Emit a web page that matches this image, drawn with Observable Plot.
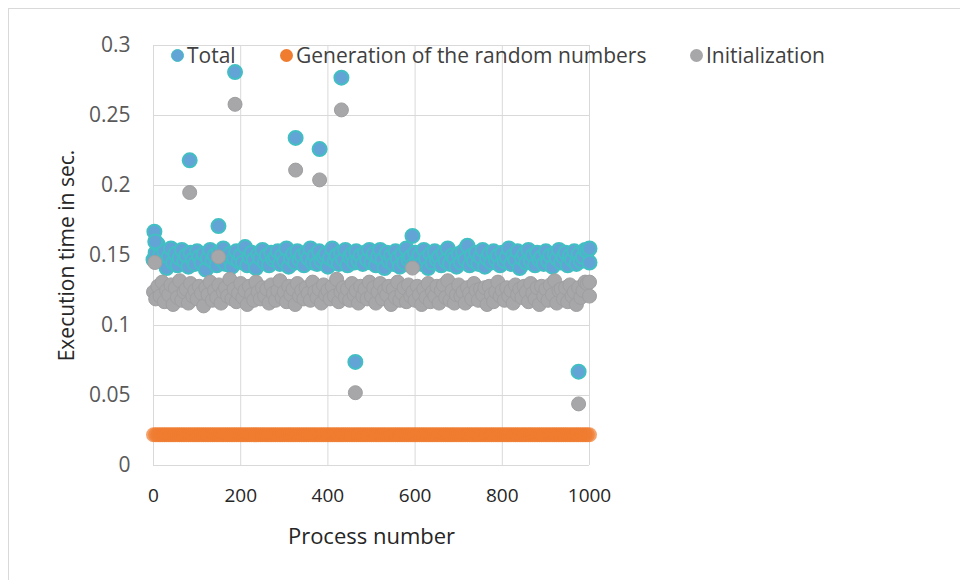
<!DOCTYPE html>
<html>
<head>
<meta charset="utf-8">
<script src="https://cdn.jsdelivr.net/npm/d3@7"></script>
<script src="https://cdn.jsdelivr.net/npm/@observablehq/plot@0.6"></script>
<style>
  html, body { margin: 0; padding: 0; background: #fff; }
  #wrap { position: relative; width: 960px; height: 580px; overflow: hidden; font-family: "Open Sans", "Noto Sans", sans-serif; }
  #border { position: absolute; left: 8px; top: 8px; width: 1000px; height: 1000px; border: 1px solid #d9d9d9; box-sizing: border-box; }
  #chart { position: absolute; left: 0; top: 0; }
  #legend { position: absolute; top: 41px; left: 0; height: 30px; font-size: 21px; color: #404040; }
  .item { position: absolute; white-space: nowrap; display: flex; align-items: center; }
  .sw { width: 13px; height: 13px; border-radius: 50%; margin-right: 3px; box-sizing: border-box; }
</style>
</head>
<body>
<div id="wrap">
  <div id="border"></div>
  <div id="chart"></div>
  <div id="legend"></div>
</div>
<script>
// ---- Data ----
const seriesNames = ["Total", "Generation of the random numbers", "Initialization"];
const seriesColors = ["#62a4d6", "#f07c30", "#a7a7a9"];

// process numbers of the sampled main band
const processes = [
  0,5,10,15,20,25,30,35,40,45,50,55,60,65,70,75,80,85,90,95,
  100,105,110,115,120,125,130,135,140,145,150,155,160,165,170,175,180,185,190,195,
  200,205,210,215,220,225,230,235,240,245,250,255,260,265,270,275,280,285,290,295,
  300,305,310,315,320,325,330,335,340,345,350,355,360,365,370,375,380,385,390,395,
  400,405,410,415,420,425,430,435,440,445,450,455,460,465,470,475,480,485,490,495,
  500,505,510,515,520,525,530,535,540,545,550,555,560,565,570,575,580,585,590,595,
  600,605,610,615,620,625,630,635,640,645,650,655,660,665,670,675,680,685,690,695,
  700,705,710,715,720,725,730,735,740,745,750,755,760,765,770,775,780,785,790,795,
  800,805,810,815,820,825,830,835,840,845,850,855,860,865,870,875,880,885,890,895,
  900,905,910,915,920,925,930,935,940,945,950,955,960,965,970,975,980,985,990,995,
  1000];

const totalValues = [
  0.147,0.152,0.158,0.150,0.146,0.153,0.141,0.149,0.155,0.145,0.151,0.143,0.148,0.154,0.146,0.150,0.142,0.152,0.147,0.144,
  0.153,0.149,0.145,0.151,0.140,0.148,0.154,0.146,0.150,0.143,0.152,0.147,0.155,0.144,0.149,0.151,0.142,0.148,0.153,0.146,
  0.150,0.145,0.156,0.143,0.149,0.152,0.147,0.141,0.151,0.148,0.154,0.145,0.150,0.143,0.152,0.147,0.149,0.153,0.144,0.150,
  0.146,0.155,0.142,0.148,0.151,0.145,0.153,0.147,0.150,0.143,0.152,0.148,0.155,0.145,0.150,0.144,0.153,0.146,0.149,0.151,
  0.142,0.148,0.155,0.146,0.150,0.144,0.152,0.147,0.154,0.143,0.149,0.151,0.145,0.153,0.146,0.150,0.144,0.152,0.147,0.154,
  0.145,0.151,0.143,0.149,0.154,0.147,0.141,0.152,0.146,0.150,0.144,0.153,0.148,0.142,0.151,0.145,0.155,0.147,0.149,0.143,
  0.152,0.146,0.150,0.144,0.154,0.148,0.141,0.151,0.145,0.153,0.147,0.149,0.143,0.152,0.146,0.155,0.144,0.150,0.148,0.142,
  0.151,0.145,0.153,0.147,0.157,0.143,0.150,0.146,0.152,0.144,0.149,0.154,0.142,0.148,0.151,0.145,0.153,0.147,0.150,0.143,
  0.152,0.146,0.149,0.155,0.144,0.150,0.147,0.153,0.141,0.148,0.151,0.145,0.154,0.146,0.150,0.143,0.152,0.147,0.149,0.144,
  0.153,0.146,0.150,0.142,0.151,0.148,0.154,0.145,0.149,0.152,0.143,0.150,0.147,0.153,0.144,0.151,0.146,0.149,0.154,0.153,
  0.145];

const generationValues = [
  0.022,0.022,0.022,0.022,0.022,0.022,0.022,0.022,0.022,0.022,0.022,0.022,0.022,0.022,0.022,0.022,0.022,0.022,0.022,0.022,
  0.022,0.022,0.022,0.022,0.022,0.022,0.022,0.022,0.022,0.022,0.022,0.022,0.022,0.022,0.022,0.022,0.022,0.022,0.022,0.022,
  0.022,0.022,0.022,0.022,0.022,0.022,0.022,0.022,0.022,0.022,0.022,0.022,0.022,0.022,0.022,0.022,0.022,0.022,0.022,0.022,
  0.022,0.022,0.022,0.022,0.022,0.022,0.022,0.022,0.022,0.022,0.022,0.022,0.022,0.022,0.022,0.022,0.022,0.022,0.022,0.022,
  0.022,0.022,0.022,0.022,0.022,0.022,0.022,0.022,0.022,0.022,0.022,0.022,0.022,0.022,0.022,0.022,0.022,0.022,0.022,0.022,
  0.022,0.022,0.022,0.022,0.022,0.022,0.022,0.022,0.022,0.022,0.022,0.022,0.022,0.022,0.022,0.022,0.022,0.022,0.022,0.022,
  0.022,0.022,0.022,0.022,0.022,0.022,0.022,0.022,0.022,0.022,0.022,0.022,0.022,0.022,0.022,0.022,0.022,0.022,0.022,0.022,
  0.022,0.022,0.022,0.022,0.022,0.022,0.022,0.022,0.022,0.022,0.022,0.022,0.022,0.022,0.022,0.022,0.022,0.022,0.022,0.022,
  0.022,0.022,0.022,0.022,0.022,0.022,0.022,0.022,0.022,0.022,0.022,0.022,0.022,0.022,0.022,0.022,0.022,0.022,0.022,0.022,
  0.022,0.022,0.022,0.022,0.022,0.022,0.022,0.022,0.022,0.022,0.022,0.022,0.022,0.022,0.022,0.022,0.022,0.022,0.022,0.022,
  0.022];

const initValues = [
  0.124,0.119,0.128,0.121,0.131,0.117,0.125,0.122,0.129,0.115,0.127,0.120,0.132,0.118,0.124,0.126,0.116,0.130,0.121,0.125,
  0.119,0.128,0.123,0.114,0.127,0.122,0.131,0.118,0.125,0.120,0.129,0.116,0.124,0.127,0.121,0.133,0.119,0.126,0.117,0.123,
  0.130,0.120,0.125,0.115,0.128,0.122,0.118,0.131,0.124,0.119,0.127,0.121,0.126,0.116,0.129,0.123,0.118,0.125,0.132,0.120,
  0.124,0.117,0.128,0.122,0.126,0.115,0.130,0.121,0.125,0.119,0.127,0.123,0.118,0.131,0.124,0.120,0.126,0.116,0.129,0.122,
  0.125,0.119,0.128,0.121,0.133,0.117,0.124,0.127,0.120,0.126,0.118,0.130,0.122,0.125,0.116,0.128,0.121,0.126,0.119,0.131,
  0.121,0.127,0.116,0.124,0.130,0.119,0.125,0.122,0.128,0.115,0.126,0.120,0.131,0.118,0.123,0.127,0.117,0.129,0.121,0.124,
  0.118,0.128,0.122,0.115,0.126,0.120,0.130,0.117,0.124,0.121,0.128,0.116,0.125,0.129,0.120,0.132,0.118,0.125,0.116,0.122,
  0.129,0.121,0.124,0.116,0.127,0.123,0.119,0.130,0.125,0.118,0.126,0.122,0.127,0.115,0.128,0.122,0.117,0.124,0.131,0.121,
  0.125,0.118,0.127,0.121,0.125,0.116,0.129,0.122,0.126,0.120,0.128,0.124,0.117,0.130,0.123,0.119,0.127,0.115,0.128,0.121,
  0.126,0.118,0.129,0.122,0.132,0.116,0.125,0.126,0.119,0.127,0.117,0.129,0.121,0.124,0.115,0.127,0.120,0.125,0.131,0.130,
  0.121];

// outliers
const totalOutlierX = [2, 4, 83, 149, 187, 326, 381, 431, 463, 594, 975, 1000];
const totalOutlierY = [0.167, 0.160, 0.218, 0.171, 0.281, 0.234, 0.226, 0.277, 0.074, 0.164, 0.067, 0.155];
const initOutlierX = [3, 83, 149, 187, 326, 381, 431, 463, 594, 975, 1000];
const initOutlierY = [0.145, 0.195, 0.149, 0.258, 0.211, 0.204, 0.254, 0.052, 0.141, 0.044, 0.131];

const xTicks = [0, 200, 400, 600, 800, 1000];
const yTicks = [0, 0.05, 0.1, 0.15, 0.2, 0.25, 0.3];
const xTitle = "Process number";
const yTitle = "Execution time in sec.";

// ---- Build tables ----
const total = processes.map((p, i) => ({x: p, y: totalValues[i]}))
  .concat(totalOutlierX.map((p, i) => ({x: p, y: totalOutlierY[i]})));
const generation = processes.map((p, i) => ({x: p, y: generationValues[i]}));
const init = processes.map((p, i) => ({x: p, y: initValues[i]}))
  .concat(initOutlierX.map((p, i) => ({x: p, y: initOutlierY[i]})));

const chart = Plot.plot({
  width: 960,
  height: 580,
  marginLeft: 153,
  marginRight: 371,
  marginTop: 45,
  marginBottom: 115,
  style: {fontFamily: '"Open Sans", "Noto Sans", sans-serif', background: "transparent"},
  x: {domain: [0, 1000]},
  y: {domain: [0, 0.3]},
  marks: [
    Plot.gridX(xTicks, {stroke: "#d9d9d9", strokeOpacity: 1}),
    Plot.gridY(yTicks, {stroke: "#d9d9d9", strokeOpacity: 1}),
    Plot.axisY(yTicks, {
      tickSize: 0, tickPadding: 23, fontSize: 21, fill: "#595959",
      tickFormat: d => String(+d.toFixed(2)), label: null
    }),
    Plot.axisX(xTicks, {
      tickSize: 0, tickPadding: 23, fontSize: 19, fill: "#262626",
      tickFormat: d => String(d), label: null
    }),
    Plot.text([xTitle], {text: d => d, frameAnchor: "bottom", textAnchor: "middle", lineAnchor: "middle", dy: 71, fontSize: 22, fill: "#262626"}),
    Plot.text([yTitle], {text: d => d, frameAnchor: "left", textAnchor: "middle", lineAnchor: "middle", rotate: -90, dx: -86, fontSize: 21, fill: "#262626"}),
    Plot.dot(total, {x: "x", y: "y", r: 7, fill: seriesColors[0], stroke: "#42bfc2", strokeWidth: 2}),
    Plot.dot(generation, {x: "x", y: "y", r: 7.5, fill: seriesColors[1], fillOpacity: 0.7, stroke: "none"}),
    Plot.dot(init, {x: "x", y: "y", r: 7, fill: seriesColors[2], stroke: "#9f9fa1", strokeWidth: 1})
  ]
});
document.getElementById("chart").appendChild(chart);

// legend
const legendPos = [171, 280, 690];
const leg = document.getElementById("legend");
seriesNames.forEach((name, i) => {
  const it = document.createElement("div");
  it.className = "item";
  it.style.left = legendPos[i] + "px";
  const sw = document.createElement("span");
  sw.className = "sw";
  sw.style.background = seriesColors[i];
  if (i === 0) sw.style.border = "1.5px solid #42bfc2";
  const tx = document.createElement("span");
  tx.textContent = name;
  it.appendChild(sw);
  it.appendChild(tx);
  leg.appendChild(it);
});
</script>
</body>
</html>
